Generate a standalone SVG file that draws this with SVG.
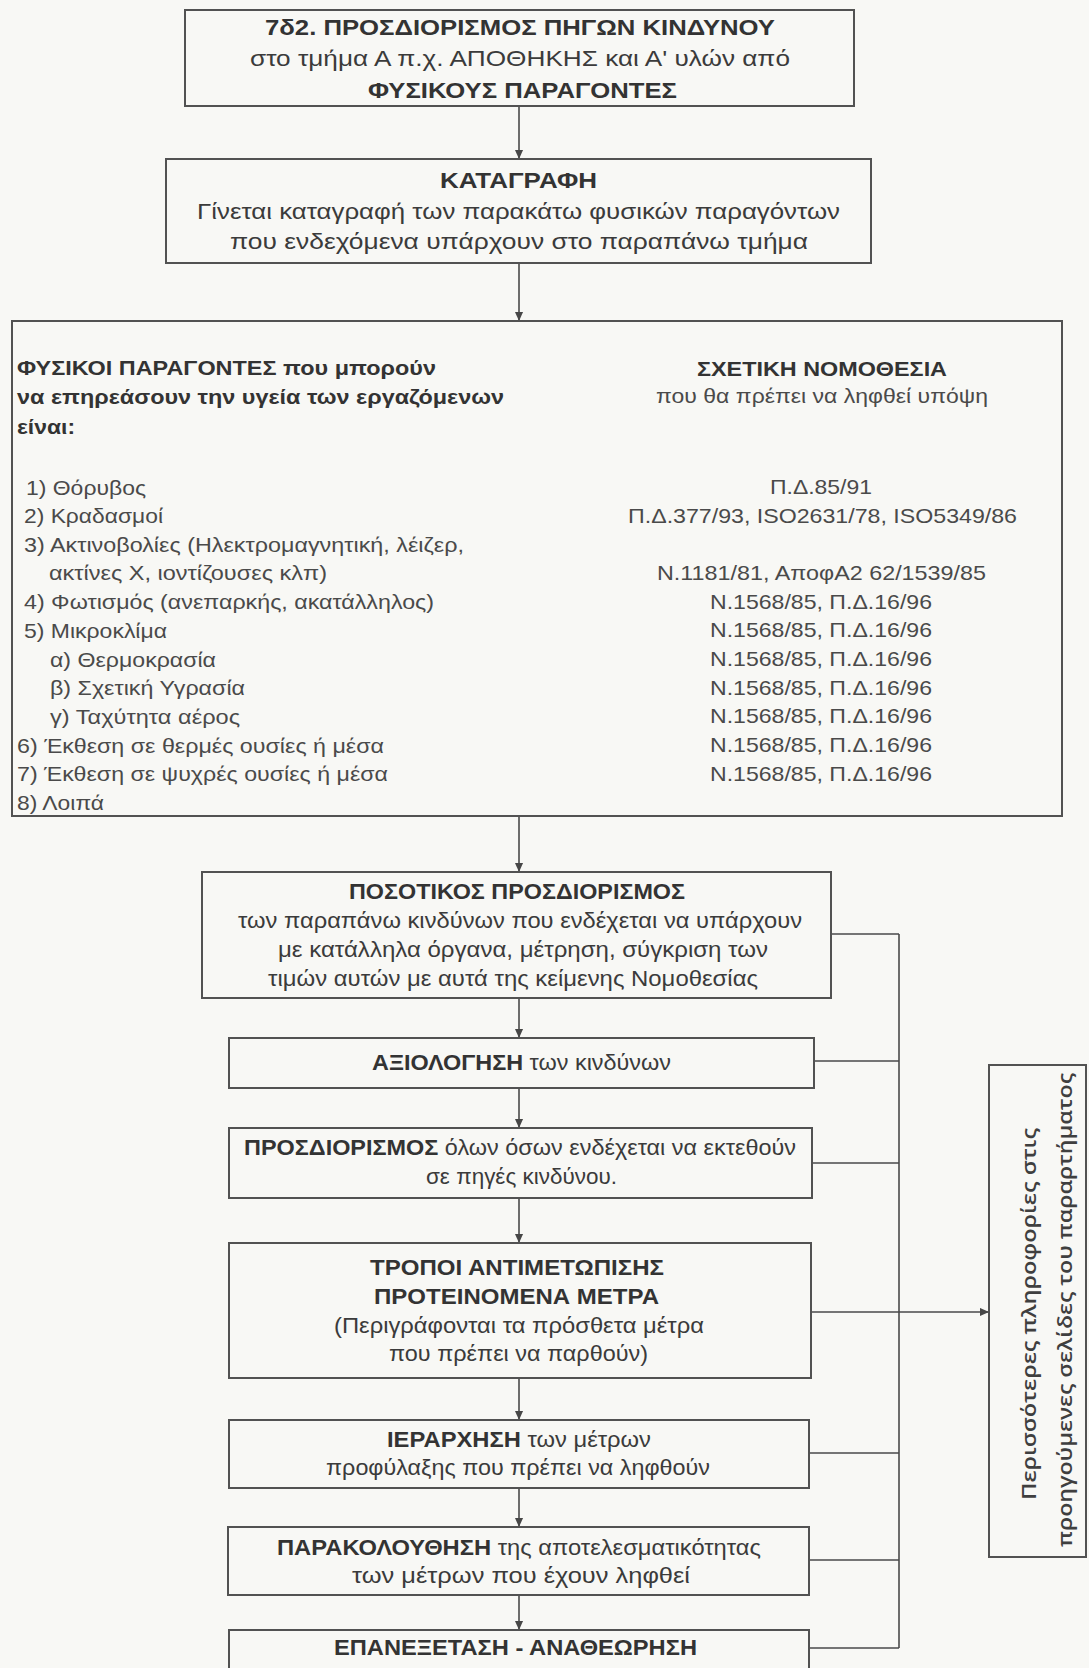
<svg xmlns="http://www.w3.org/2000/svg" width="1089" height="1668" viewBox="0 0 1089 1668">
  <defs>
    <marker id="ah" viewBox="0 0 10 10" refX="10" refY="5" markerWidth="10" markerHeight="9" markerUnits="userSpaceOnUse" orient="auto">
      <path d="M0,0.5 L10,5 L0,9.5 z" fill="#474747"/>
    </marker>
    <style>
      .bg { fill: #f8f8f5; }
      .box { fill: #f8f8f5; stroke: #525252; stroke-width: 2; }
      .ln { fill: none; stroke: #4a4a4a; stroke-width: 1.6; }
      .t { font-family: "Liberation Sans", Arial, sans-serif; font-size: 22px; fill: #3b3b3b; }
      .f { font-size: 21px; }
      .b { font-weight: bold; fill: #333333; }
      .r { fill: #4a4a4a; }
      .side { font-family: "Open Sans", "Liberation Sans", sans-serif; font-size: 19px; font-weight: 600; fill: #3f3f3f; }
    </style>
  </defs>

  <rect class="bg" x="0" y="0" width="1089" height="1668"/>

  <!-- connectors -->
  <g id="connectors">
    <line class="ln" x1="519" y1="106" x2="519" y2="159" marker-end="url(#ah)"/>
    <line class="ln" x1="519" y1="263" x2="519" y2="321" marker-end="url(#ah)"/>
    <line class="ln" x1="519" y1="321" x2="519" y2="816"/>
    <line class="ln" x1="519" y1="816" x2="519" y2="872" marker-end="url(#ah)"/>
    <line class="ln" x1="519" y1="998" x2="519" y2="1038" marker-end="url(#ah)"/>
    <line class="ln" x1="519" y1="1088" x2="519" y2="1128" marker-end="url(#ah)"/>
    <line class="ln" x1="519" y1="1198" x2="519" y2="1243" marker-end="url(#ah)"/>
    <line class="ln" x1="519" y1="1378" x2="519" y2="1420" marker-end="url(#ah)"/>
    <line class="ln" x1="519" y1="1488" x2="519" y2="1527" marker-end="url(#ah)"/>
    <line class="ln" x1="519" y1="1595" x2="519" y2="1630" marker-end="url(#ah)"/>
    <!-- collector bus on the right -->
    <line class="ln" x1="899" y1="934" x2="899" y2="1648"/>
    <line class="ln" x1="831" y1="934" x2="899" y2="934"/>
    <line class="ln" x1="814" y1="1061" x2="899" y2="1061"/>
    <line class="ln" x1="812" y1="1163" x2="899" y2="1163"/>
    <line class="ln" x1="811" y1="1312" x2="989" y2="1312" marker-end="url(#ah)"/>
    <line class="ln" x1="809" y1="1453" x2="899" y2="1453"/>
    <line class="ln" x1="809" y1="1560" x2="899" y2="1560"/>
    <line class="ln" x1="809" y1="1648" x2="899" y2="1648"/>
  </g>

  <!-- title -->
  <g id="n-title">
    <rect class="box" x="185" y="10" width="669" height="96"/>
    <text class="t b" x="265" y="35" textLength="510" lengthAdjust="spacingAndGlyphs">7δ2. ΠΡΟΣΔΙΟΡΙΣΜΟΣ ΠΗΓΩΝ ΚΙΝΔΥΝΟΥ</text>
    <text class="t" x="250" y="66" textLength="540" lengthAdjust="spacingAndGlyphs">στο τμήμα Α π.χ. ΑΠΟΘΗΚΗΣ και Α' υλών από</text>
    <text class="t b" x="368" y="98" textLength="309" lengthAdjust="spacingAndGlyphs">ΦΥΣΙΚΟΥΣ ΠΑΡΑΓΟΝΤΕΣ</text>
  </g>

  <!-- recording -->
  <g id="n-katagrafi">
    <rect class="box" x="166" y="159" width="705" height="104"/>
    <text class="t b" x="440" y="188" textLength="157" lengthAdjust="spacingAndGlyphs">ΚΑΤΑΓΡΑΦΗ</text>
    <text class="t" x="197" y="219" textLength="643" lengthAdjust="spacingAndGlyphs">Γίνεται καταγραφή των παρακάτω φυσικών παραγόντων</text>
    <text class="t" x="230" y="249" textLength="578" lengthAdjust="spacingAndGlyphs">που ενδεχόμενα υπάρχουν στο παραπάνω τμήμα</text>
  </g>

  <!-- factors and legislation -->
  <g id="n-factors">
    <rect class="box" x="12" y="321" width="1050" height="495"/>
    <text class="t f b" x="17" y="375" textLength="419" lengthAdjust="spacingAndGlyphs">ΦΥΣΙΚΟΙ ΠΑΡΑΓΟΝΤΕΣ που μπορούν</text>
    <text class="t f b" x="17" y="404" textLength="487" lengthAdjust="spacingAndGlyphs">να επηρεάσουν την υγεία των εργαζόμενων</text>
    <text class="t f b" x="17" y="434" textLength="58" lengthAdjust="spacingAndGlyphs">είναι:</text>
    <text class="t f r" x="26" y="495" textLength="120" lengthAdjust="spacingAndGlyphs">1) Θόρυβος</text>
    <text class="t f r" x="24" y="523" textLength="139" lengthAdjust="spacingAndGlyphs">2) Κραδασμοί</text>
    <text class="t f r" x="24" y="552" textLength="440" lengthAdjust="spacingAndGlyphs">3) Ακτινοβολίες (Ηλεκτρομαγνητική, λέιζερ,</text>
    <text class="t f r" x="49" y="580" textLength="278" lengthAdjust="spacingAndGlyphs">ακτίνες Χ, ιοντίζουσες κλπ)</text>
    <text class="t f r" x="24" y="609" textLength="410" lengthAdjust="spacingAndGlyphs">4) Φωτισμός (ανεπαρκής, ακατάλληλος)</text>
    <text class="t f r" x="24" y="638" textLength="143" lengthAdjust="spacingAndGlyphs">5) Μικροκλίμα</text>
    <text class="t f r" x="50" y="667" textLength="166" lengthAdjust="spacingAndGlyphs">α) Θερμοκρασία</text>
    <text class="t f r" x="50" y="695" textLength="195" lengthAdjust="spacingAndGlyphs">β) Σχετική Υγρασία</text>
    <text class="t f r" x="50" y="724" textLength="190" lengthAdjust="spacingAndGlyphs">γ) Ταχύτητα αέρος</text>
    <text class="t f r" x="17" y="753" textLength="367" lengthAdjust="spacingAndGlyphs">6) Έκθεση σε θερμές ουσίες ή μέσα</text>
    <text class="t f r" x="17" y="781" textLength="371" lengthAdjust="spacingAndGlyphs">7) Έκθεση σε ψυχρές ουσίες ή μέσα</text>
    <text class="t f r" x="17" y="810" textLength="87" lengthAdjust="spacingAndGlyphs">8) Λοιπά</text>

    <text class="t f b" x="697" y="376" textLength="250" lengthAdjust="spacingAndGlyphs">ΣΧΕΤΙΚΗ ΝΟΜΟΘΕΣΙΑ</text>
    <text class="t f r" x="656" y="403" textLength="332" lengthAdjust="spacingAndGlyphs">που θα πρέπει να ληφθεί υπόψη</text>
    <text class="t f r" x="770" y="494" textLength="102" lengthAdjust="spacingAndGlyphs">Π.Δ.85/91</text>
    <text class="t f r" x="628" y="523" textLength="389" lengthAdjust="spacingAndGlyphs">Π.Δ.377/93, ISO2631/78, ISO5349/86</text>
    <text class="t f r" x="657" y="580" textLength="329" lengthAdjust="spacingAndGlyphs">Ν.1181/81, ΑποφΑ2 62/1539/85</text>
    <text class="t f r" x="710" y="609" textLength="222" lengthAdjust="spacingAndGlyphs">Ν.1568/85, Π.Δ.16/96</text>
    <text class="t f r" x="710" y="637" textLength="222" lengthAdjust="spacingAndGlyphs">Ν.1568/85, Π.Δ.16/96</text>
    <text class="t f r" x="710" y="666" textLength="222" lengthAdjust="spacingAndGlyphs">Ν.1568/85, Π.Δ.16/96</text>
    <text class="t f r" x="710" y="695" textLength="222" lengthAdjust="spacingAndGlyphs">Ν.1568/85, Π.Δ.16/96</text>
    <text class="t f r" x="710" y="723" textLength="222" lengthAdjust="spacingAndGlyphs">Ν.1568/85, Π.Δ.16/96</text>
    <text class="t f r" x="710" y="752" textLength="222" lengthAdjust="spacingAndGlyphs">Ν.1568/85, Π.Δ.16/96</text>
    <text class="t f r" x="710" y="781" textLength="222" lengthAdjust="spacingAndGlyphs">Ν.1568/85, Π.Δ.16/96</text>
  </g>

  <!-- quantitative determination -->
  <g id="n-posotikos">
    <rect class="box" x="202" y="872" width="629" height="126"/>
    <text class="t b" x="349" y="899" textLength="336" lengthAdjust="spacingAndGlyphs">ΠΟΣΟΤΙΚΟΣ ΠΡΟΣΔΙΟΡΙΣΜΟΣ</text>
    <text class="t" x="238" y="928" textLength="564" lengthAdjust="spacingAndGlyphs">των παραπάνω κινδύνων που ενδέχεται να υπάρχουν</text>
    <text class="t" x="278" y="957" textLength="490" lengthAdjust="spacingAndGlyphs">με κατάλληλα όργανα, μέτρηση, σύγκριση των</text>
    <text class="t" x="268" y="986" textLength="490" lengthAdjust="spacingAndGlyphs">τιμών αυτών με αυτά της κείμενης Νομοθεσίας</text>
  </g>

  <!-- evaluation -->
  <g id="n-axiologisi">
    <rect class="box" x="229" y="1038" width="585" height="50"/>
    <text class="t" x="372" y="1070" textLength="299" lengthAdjust="spacingAndGlyphs"><tspan class="b">ΑΞΙΟΛΟΓΗΣΗ</tspan> των κινδύνων</text>
  </g>

  <!-- exposed persons -->
  <g id="n-prosdiorismos">
    <rect class="box" x="229" y="1128" width="583" height="70"/>
    <text class="t" x="244" y="1155" textLength="552" lengthAdjust="spacingAndGlyphs"><tspan class="b">ΠΡΟΣΔΙΟΡΙΣΜΟΣ</tspan> όλων όσων ενδέχεται να εκτεθούν</text>
    <text class="t" x="426" y="1184" textLength="191" lengthAdjust="spacingAndGlyphs">σε πηγές κινδύνου.</text>
  </g>

  <!-- countermeasures -->
  <g id="n-tropoi">
    <rect class="box" x="229" y="1243" width="582" height="135"/>
    <text class="t b" x="370" y="1275" textLength="294" lengthAdjust="spacingAndGlyphs">ΤΡΟΠΟΙ ΑΝΤΙΜΕΤΩΠΙΣΗΣ</text>
    <text class="t b" x="374" y="1304" textLength="285" lengthAdjust="spacingAndGlyphs">ΠΡΟΤΕΙΝΟΜΕΝΑ ΜΕΤΡΑ</text>
    <text class="t" x="334" y="1333" textLength="370" lengthAdjust="spacingAndGlyphs">(Περιγράφονται τα πρόσθετα μέτρα</text>
    <text class="t" x="389" y="1361" textLength="259" lengthAdjust="spacingAndGlyphs">που πρέπει να παρθούν)</text>
  </g>

  <!-- ranking -->
  <g id="n-ierarxisi">
    <rect class="box" x="229" y="1420" width="580" height="68"/>
    <text class="t" x="387" y="1447" textLength="264" lengthAdjust="spacingAndGlyphs"><tspan class="b">ΙΕΡΑΡΧΗΣΗ</tspan> των μέτρων</text>
    <text class="t" x="326" y="1475" textLength="384" lengthAdjust="spacingAndGlyphs">προφύλαξης που πρέπει να ληφθούν</text>
  </g>

  <!-- monitoring -->
  <g id="n-parakolouthisi">
    <rect class="box" x="228" y="1527" width="581" height="68"/>
    <text class="t" x="277" y="1555" textLength="484" lengthAdjust="spacingAndGlyphs"><tspan class="b">ΠΑΡΑΚΟΛΟΥΘΗΣΗ</tspan> της αποτελεσματικότητας</text>
    <text class="t" x="352" y="1583" textLength="338" lengthAdjust="spacingAndGlyphs">των μέτρων που έχουν ληφθεί</text>
  </g>

  <!-- review -->
  <g id="n-epanexetasi">
    <rect class="box" x="229" y="1630" width="580" height="50"/>
    <text class="t b" x="334" y="1655" textLength="363" lengthAdjust="spacingAndGlyphs">ΕΠΑΝΕΞΕΤΑΣΗ - ΑΝΑΘΕΩΡΗΣΗ</text>
  </g>

  <!-- side note -->
  <g id="n-side">
    <rect class="box" x="989" y="1065" width="97" height="492"/>
    <text class="side" transform="translate(1036,1500) rotate(-90)" x="0" y="0" textLength="372" lengthAdjust="spacingAndGlyphs">Περισσότερες πληροφορίες στις</text>
    <text class="side" transform="translate(1072,1547) rotate(-90)" x="0" y="0" textLength="474" lengthAdjust="spacingAndGlyphs">προηγούμενες σελίδες του παραρτήματος</text>
  </g>
</svg>
